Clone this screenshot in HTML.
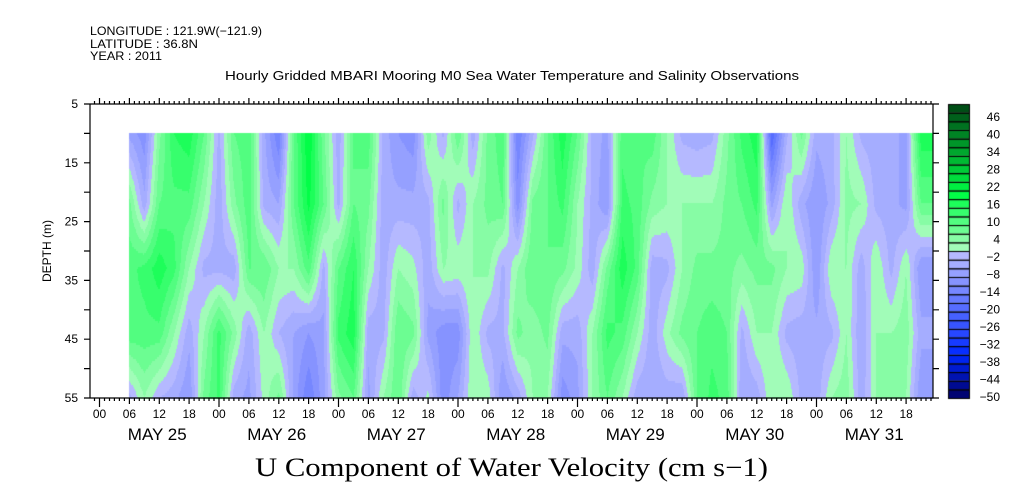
<!DOCTYPE html>
<html><head><meta charset="utf-8"><style>
body{margin:0;background:#fff;}
#wrap{position:relative;width:1009px;height:504px;overflow:hidden;font-family:"Liberation Sans",sans-serif;}
svg{position:absolute;left:0;top:0;}
</style></head><body>
<div id="wrap">
<canvas id="hm" width="1009" height="504" style="position:absolute;left:0;top:0"></canvas>
<svg id="svg" width="1009" height="504"></svg>
</div>
<script>
// hours since May 25 00:00, every 3 hours
const hours = [6,9,12,15,18,21,24,27,30,33,36,39,42,45,48,51,54,57,60,63,66,69,72,75,78,81,84,87,90,93,96,99,102,105,108,111,114,117,120,123,126,129,132,135,138,141,144,147,150,153,156,159,162,165];
const depths = [10,22,33,44,55];
const u10 = [-6,-10,6,16,18,10,-3,10,12,-4,-14,10,22,8,-4,10,12,-3,-8,-10,6,-3,10,-4,8,12,-14,-3,10,18,10,-3,-6,12,10,12,4,-3,-4,-3,6,14,18,-20,-3,8,-4,-3,4,-3,-4,-4,-6,18];
const u22 = [8,-4,10,12,12,4,-4,6,12,-3,-5,10,20,10,-3,10,8,-4,-4,-4,-3,8,-3,4,8,10,-10,8,10,14,4,-3,-8,14,12,6,4,4,4,4,8,10,14,-6,4,-4,-8,-4,5,4,-3,-4,-6,10];
const u33 = [12,14,18,14,4,-3,-3,-4,10,10,4,4,12,-3,10,16,4,-4,4,2,-4,4,3,4,5,-3,4,10,10,8,3,-4,8,18,12,-4,-3,4,8,8,8,6,8,8,4,3,-8,4,4,-4,4,-3,4,-8];
const u44 = [12,12,12,4,-4,4,14,6,-4,4,-2,-5,-8,-6,14,18,-4,-3,10,8,-6,-10,-10,4,-3,-3,8,5,8,-4,-4,4,14,12,4,-4,3,8,10,12,10,-3,4,4,-3,-4,-4,-3,4,-5,4,4,6,-4];
const u55 = [-3,4,-2,-4,-8,8,14,-4,-6,2,8,-6,-14,-6,6,10,-6,4,10,-4,2,-10,-5,4,3,-8,-4,4,4,-10,-6,4,10,4,-4,-5,-4,-5,10,14,12,-5,-4,4,4,-3,-4,4,6,-4,4,4,4,-8];
const rows = [u10,u22,u33,u44,u55];
const cbLevels = []; for(let v=-50; v<52; v+=3) cbLevels.push(v);
const cbLabels = [46,40,34,28,22,16,10,4,-2,-8,-14,-20,-26,-32,-38,-44,-50];
const yTicks = [5,15,25,35,45,55];
const dayNames = ["MAY 25","MAY 26","MAY 27","MAY 28","MAY 29","MAY 30","MAY 31"];

const X0=90,X1=933,Y0=104,Y1=398;
const x = h => 99.5 + h*119.5/24;
const y = d => Y0 + (d-5)*(Y1-Y0)/50;
function lerp(a,b,t){return a+(b-a)*t;}
function color(v){
  const lv = Math.floor((v+50)/3)*3-50+1.5;
  let r,g,b;
  if(lv<0){ const t=Math.min(1,-lv/50);
    if(t<0.7){const s=t/0.7; r=lerp(184,0,s); g=lerp(188,40,s); b=255;}
    else {const s=(t-0.7)/0.3; r=0; g=lerp(40,0,s); b=lerp(255,100,s);}
  } else { const t=Math.min(1,lv/52);
    if(t<0.4){const s=t/0.4; r=lerp(184,0,s); g=lerp(252,255,s); b=lerp(200,70,s);}
    else {const s=(t-0.4)/0.6; r=0; g=lerp(255,70,s); b=lerp(70,20,s);}
  }
  return `rgb(${r|0},${g|0},${b|0})`;
}
function val(h,d){
  let i=0; while(i<hours.length-2 && h>hours[i+1]) i++;
  let ti=Math.max(0,Math.min(1,(h-hours[i])/(hours[i+1]-hours[i])));
  let j=0; while(j<depths.length-2 && d>depths[j+1]) j++;
  let tj=Math.max(0,Math.min(1,(d-depths[j])/(depths[j+1]-depths[j])));
  const a=lerp(rows[j][i],rows[j][i+1],ti), b=lerp(rows[j+1][i],rows[j+1][i+1],ti);
  return lerp(a,b,tj);
}
const ctx=document.getElementById('hm').getContext('2d');
const xs=x(hours[0]), xe=X1;
for(let px=Math.round(xs); px<xe; px++){
  const h=(px+0.5-99.5)*24/119.5;
  for(let py=Math.round(y(10)); py<Y1; py+=2){
    const d=5+(py+1-Y0)*50/(Y1-Y0);
    ctx.fillStyle=color(val(h,d));
    ctx.fillRect(px,py,1,2);
  }
}
const CBX=948,CBW=22, lh=(Y1-Y0)/cbLevels.length;
cbLevels.forEach((lv,k)=>{ctx.fillStyle=color(lv+0.1);ctx.fillRect(CBX,Y1-(k+1)*lh,CBW,lh);ctx.strokeStyle='#000';ctx.lineWidth=1;ctx.strokeRect(CBX+0.5,Y1-(k+1)*lh+0.5,CBW-1,lh);});

const svg=document.getElementById('svg');
function el(tag,attrs,text){const e=document.createElementNS('http://www.w3.org/2000/svg',tag);for(const k in attrs)e.setAttribute(k,attrs[k]);if(text!==undefined)e.textContent=text;svg.appendChild(e);return e;}
let p='';
p+=`M${X0},${Y0}H${X1}V${Y1}H${X0}Z`;
for(let h=-2; x(h)<=X1+0.1; h++){const xx=x(h); if(xx<X0-0.1) continue; const maj=((h%6)+6)%6===0;
  p+=`M${xx.toFixed(1)},${Y0}v${maj?-6:-3}M${xx.toFixed(1)},${Y1}v${(h%24===0)?9:(maj?6:3)}`;}
for(let d=5; d<=55; d+=5){p+=`M${X0},${y(d)}h-6M${X1},${y(d)}h6`;}
const frame=el('path',{d:p,stroke:'#000','stroke-width':1.2,fill:'none'});


yTicks.forEach(d=>{const t=el('text',{x:78,y:y(d)+4,'text-anchor':'end','font-size':12},d);

});
for(let h=0; h<168; h+=6){const t=el('text',{x:x(h),y:418,'text-anchor':'middle','font-size':12},String(h%24).padStart(2,'0'));

}
dayNames.forEach((n,i)=>{const t=el('text',{x:x(i*24+12)-2,y:440,'text-anchor':'middle','font-size':17},n);

});
cbLabels.forEach(v=>{const t=el('text',{x:1000,y:397-(v+50)/96*280+4,'text-anchor':'end','font-size':12},v<0?'\u2212'+(-v):v);

});
</script>
<svg width="1009" height="504" style="position:absolute;left:0;top:0;pointer-events:none">
<g font-family="Liberation Sans, sans-serif" font-size="12">
<text x="90" y="35" textLength="172" lengthAdjust="spacingAndGlyphs">LONGITUDE : 121.9W(−121.9)</text>
<text x="90" y="48" textLength="108" lengthAdjust="spacingAndGlyphs">LATITUDE : 36.8N</text>
<text x="90" y="60" textLength="72" lengthAdjust="spacingAndGlyphs">YEAR : 2011</text>
<text x="225" y="80" textLength="574" lengthAdjust="spacingAndGlyphs" font-size="13">Hourly Gridded MBARI Mooring M0 Sea Water Temperature and Salinity Observations</text>
<text x="51" y="251" text-anchor="middle" transform="rotate(-90 51 251)">DEPTH (m)</text>
<text x="255" y="476" textLength="513" lengthAdjust="spacingAndGlyphs" font-family="Liberation Serif, serif" font-size="26">U Component of Water Velocity (cm s−1)</text>
</g></svg>
</body></html>
